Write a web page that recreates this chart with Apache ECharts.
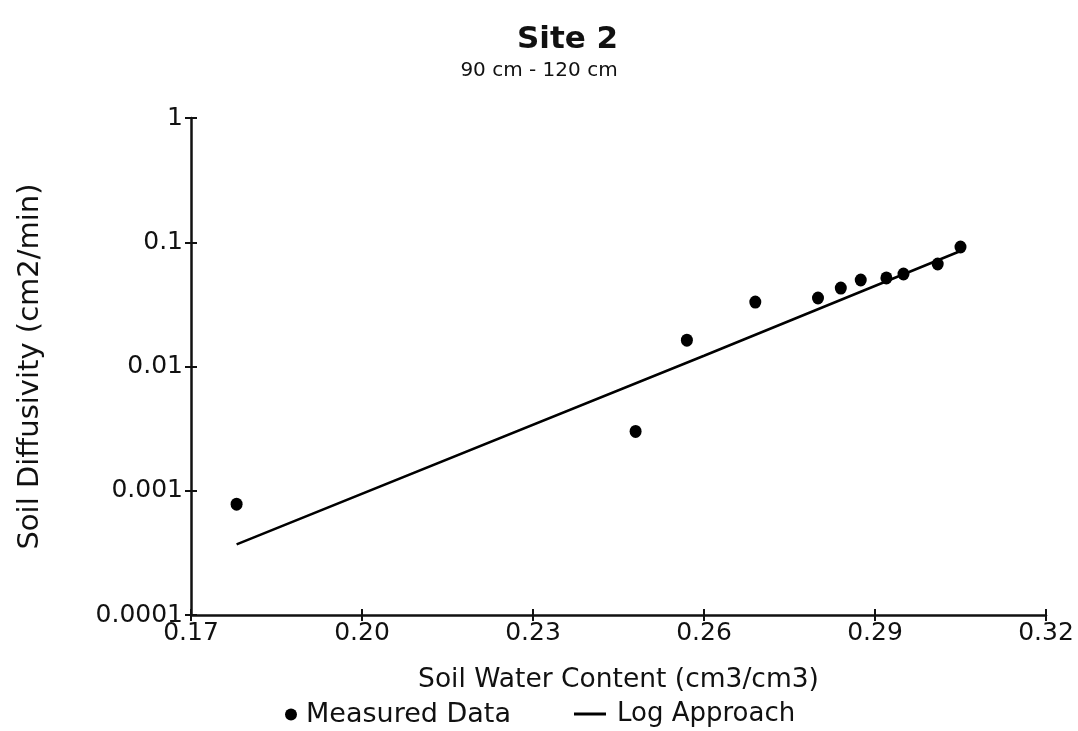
<!DOCTYPE html>
<html>
<head>
<meta charset="utf-8">
<script src="https://cdn.jsdelivr.net/npm/echarts@6/dist/echarts.min.js"></script>
<style>
  html, body { margin: 0; padding: 0; background: #fff; }
  #chart { width: 1078px; height: 731px; }
</style>
</head>
<body>
<div id="chart"></div>
<script>
// Measured soil water content (cm3/cm3) and diffusivity (cm2/min)
const waterContent = [0.178, 0.248, 0.257, 0.269, 0.280, 0.284, 0.2875, 0.292, 0.295, 0.301, 0.305];
const diffusivity  = [0.00078, 0.0030, 0.0163, 0.033, 0.0356, 0.0428, 0.0497, 0.0516, 0.0555, 0.0668, 0.0916];

// Log approach fit line
const fitWaterContent = [0.178, 0.260, 0.305];
const fitDiffusivity  = [0.00037, 0.0122, 0.085];

// Axis settings
const xTicks = [0.17, 0.20, 0.23, 0.26, 0.29, 0.32];
const yTicks = [0.0001, 0.001, 0.01, 0.1, 1];
const yTickLabels = ['0.0001', '0.001', '0.01', '0.1', '1'];

const FONT = 'DejaVu Sans';
const measured = waterContent.map((x, i) => [x, diffusivity[i]]);
const fit = fitWaterContent.map((x, i) => [x, fitDiffusivity[i]]);

const labelFor = v => {
  const i = yTicks.findIndex(t => Math.abs(Math.log10(t) - Math.log10(v)) < 1e-6);
  return i >= 0 ? yTickLabels[i] : '';
};

const chart = echarts.init(document.getElementById('chart'), null, { renderer: 'canvas' });
chart.setOption({
  backgroundColor: '#ffffff',
  animation: false,
  title: [
    { text: 'Site 2', left: 512, top: 19,
      textStyle: { fontFamily: FONT, fontSize: 31, fontWeight: 'bold', color: '#111' } },
    { text: '90 cm - 120 cm', left: 'center', top: 56,
      textStyle: { fontFamily: FONT, fontSize: 20, fontWeight: 'normal', color: '#111' } }
  ],
  grid: { left: 191, right: 32, top: 118, bottom: 116 },
  legend: [
    { data: [{ name: 'Measured Data', icon: 'circle' }], left: 280, top: 696,
      itemWidth: 12, itemHeight: 12, itemGap: 10,
      textStyle: { fontFamily: FONT, fontSize: 27, color: '#111', padding: [0, 0, 0, 4] } },
    { data: [{ name: 'Log Approach', icon: 'rect' }], left: 569, top: 696,
      itemWidth: 32, itemHeight: 3,
      textStyle: { fontFamily: FONT, fontSize: 26, color: '#111', padding: [0, 0, 0, 6] } }
  ],
  xAxis: [
    {
      type: 'value', min: 0.17, max: 0.32, interval: 0.03,
      name: 'Soil Water Content (cm3/cm3)', nameLocation: 'middle', nameGap: 52,
      nameTextStyle: { fontFamily: FONT, fontSize: 26.5, color: '#111' },
      axisLine: { lineStyle: { color: '#111', width: 2.5 } },
      axisTick: { inside: false, length: 6, lineStyle: { color: '#111', width: 2 } },
      axisLabel: { fontFamily: FONT, fontSize: 25, color: '#111', margin: 6,
        formatter: v => v.toFixed(2) },
      splitLine: { show: false }
    },
    {
      type: 'value', min: 0.17, max: 0.32, interval: 0.03, position: 'bottom',
      axisLine: { show: false },
      axisTick: { inside: true, length: 6, lineStyle: { color: '#111', width: 2 } },
      axisLabel: { show: false }, splitLine: { show: false }
    }
  ],
  yAxis: [
    {
      type: 'log', logBase: 10, min: 0.0001, max: 1,
      name: 'Soil Diffusivity (cm2/min)', nameLocation: 'middle', nameGap: 146,
      nameTextStyle: { fontFamily: FONT, fontSize: 29, color: '#111' },
      axisLine: { show: true, lineStyle: { color: '#111', width: 2.5 } },
      axisTick: { show: true, inside: false, length: 6, lineStyle: { color: '#111', width: 2 } },
      axisLabel: { fontFamily: FONT, fontSize: 25, color: '#111', margin: 8, formatter: labelFor },
      splitLine: { show: false }
    },
    {
      type: 'log', logBase: 10, min: 0.0001, max: 1, position: 'left',
      axisLine: { show: false },
      axisTick: { show: true, inside: true, length: 6, lineStyle: { color: '#111', width: 2 } },
      axisLabel: { show: false }, splitLine: { show: false }
    }
  ],
  series: [
    {
      name: 'Measured Data', type: 'scatter', data: measured,
      symbol: 'circle', symbolSize: [12, 13],
      itemStyle: { color: '#000', opacity: 1 }, z: 3
    },
    {
      name: 'Log Approach', type: 'line', data: fit,
      symbol: 'none', lineStyle: { color: '#000', width: 2.5 },
      itemStyle: { color: '#000' }
    }
  ]
});
</script>
</body>
</html>
